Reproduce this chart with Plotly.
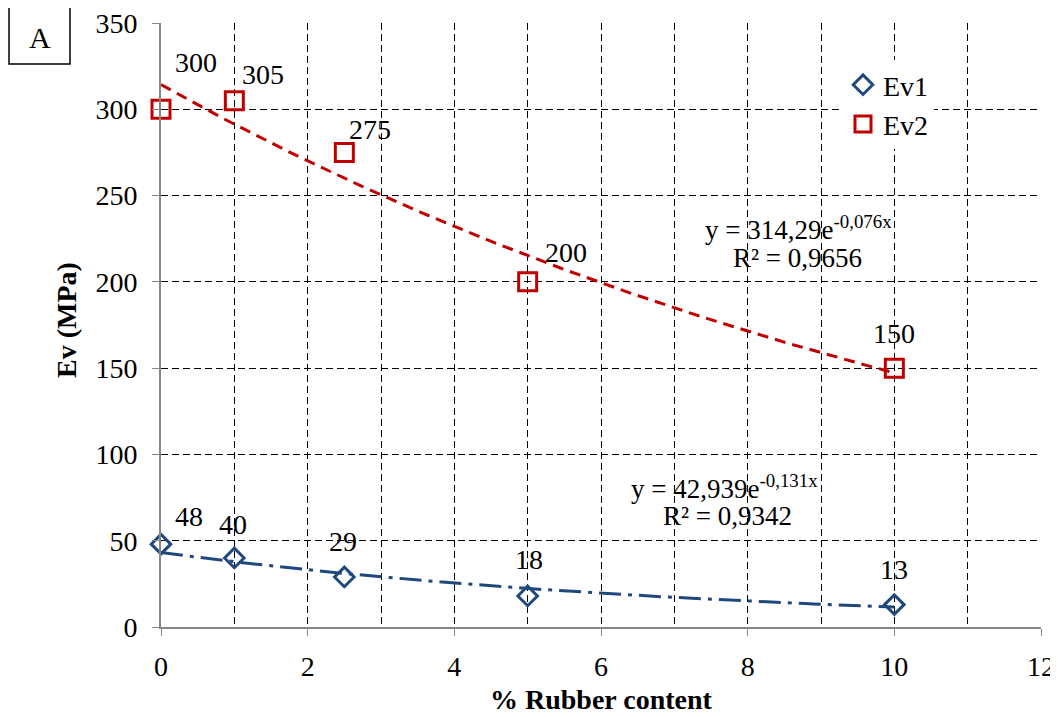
import numpy as np
import plotly.graph_objects as go

rubber = [0, 1, 2.5, 5, 10]
ev1 = [48, 40, 29, 18, 13]
ev2 = [300, 305, 275, 200, 150]
x_ticks = [0, 2, 4, 6, 8, 10, 12]
y_ticks = [0, 50, 100, 150, 200, 250, 300, 350]
eq_ev1 = ["y = 42,939e<sup>-0,131x</sup>", "R² = 0,9342"]
eq_ev2 = ["y = 314,29e<sup>-0,076x</sup>", "R² = 0,9656"]

RED = "#C00000"
BLUE = "#1F497D"
FONT = "Liberation Serif, Times New Roman, serif"

# plot frame in page pixels; the page body has an 8px margin
OFF = 8
L, R, T, B = 161, 1041, 23, 627
W, H = R - L, B - T
FIG_W, FIG_H = 1058 - OFF, 717 - OFF


def sx(px):
    return (px - L) / W


def sy(py):
    return (B - py) / H


# exponential trendlines (log-linear least squares, as Excel does)
def expfit(x, y):
    b, lna = np.polyfit(np.array(x, float), np.log(np.array(y, float)), 1)
    return np.exp(lna), b


xs = np.linspace(min(rubber), max(rubber), 100)
a1, b1 = expfit(rubber, ev1)
a2, b2 = expfit(rubber, ev2)

fig = go.Figure()
fig.add_trace(go.Scatter(x=xs, y=a2 * np.exp(b2 * xs), mode="lines",
                         line=dict(color=RED, width=3, dash="11px,7px"),
                         showlegend=False, hoverinfo="skip"))
fig.add_trace(go.Scatter(x=xs, y=a1 * np.exp(b1 * xs), mode="lines",
                         line=dict(color=BLUE, width=3, dash="22px,7px,4px,7px"),
                         showlegend=False, hoverinfo="skip"))
fig.add_trace(go.Scatter(x=rubber, y=ev1, mode="markers", name="Ev1",
                         cliponaxis=False,
                         marker=dict(symbol="diamond-open", size=15, color=BLUE,
                                     line=dict(width=3, color=BLUE))))
fig.add_trace(go.Scatter(x=rubber, y=ev2, mode="markers", name="Ev2",
                         cliponaxis=False,
                         marker=dict(symbol="square-open", size=18, color=RED,
                                     line=dict(width=3, color=RED))))

# data labels (pixel offsets from each marker: right, up)
off2 = [(35, 47), (29, 26), (26, 23), (38, 29), (0, 35)]
off1 = [(28, 28), (-1, 33), (-1, 35), (1, 36), (0, 35)]
for xv, yv, (dx, dy) in zip(rubber, ev2, off2):
    fig.add_annotation(x=xv, y=yv, text=str(yv), showarrow=False,
                       xshift=dx, yshift=dy, font=dict(family=FONT, size=28, color="black"))
for xv, yv, (dx, dy) in zip(rubber, ev1, off1):
    fig.add_annotation(x=xv, y=yv, text=str(yv), showarrow=False,
                       xshift=dx, yshift=dy, font=dict(family=FONT, size=28, color="black"))


def px_ann(px, py, text, size=27, angle=0, yanchor="middle"):
    fig.add_annotation(x=sx(px), y=sy(py), xref="paper", yref="paper",
                       text=text, showarrow=False, xanchor="center", yanchor=yanchor,
                       textangle=angle,
                       font=dict(family=FONT, size=size, color="black"))


px_ann(798, 228, eq_ev2[0])
px_ann(797, 258, eq_ev2[1])
px_ann(724, 487, eq_ev1[0])
px_ann(727, 516, eq_ev1[1])

# axis titles
px_ann(601, 717, "<b>% Rubber content</b>", size=28, yanchor="bottom")
px_ann(66, 320, "<b>Ev (MPa)</b>", size=28, angle=-90)

# "A" panel box
fig.add_shape(type="rect", xref="paper", yref="paper",
              x0=sx(9), x1=sx(70), y0=sy(64), y1=sy(6),
              line=dict(color="black", width=1.5), fillcolor="white")
px_ann(40, 37, "A", size=30)

gd = "7px,4px"
fig.update_xaxes(range=[0, 12], tickvals=x_ticks, showgrid=True,
                 gridcolor="black", gridwidth=1, griddash=gd,
                 minor=dict(dtick=1, showgrid=True, gridcolor="black", gridwidth=1, griddash=gd),
                 showline=True, linecolor="#868686", linewidth=2,
                 ticks="outside", ticklen=7, tickcolor="#868686", tickwidth=1,
                 ticklabelstandoff=6, ticklabeloverflow="allow",
                 zeroline=False, automargin=False,
                 tickfont=dict(family=FONT, size=28, color="black"))
fig.update_yaxes(range=[0, 350], tickvals=y_ticks, showgrid=True,
                 gridcolor="black", gridwidth=1, griddash=gd,
                 showline=True, linecolor="#868686", linewidth=2,
                 ticks="outside", ticklen=7, tickcolor="#868686", tickwidth=1,
                 ticklabelstandoff=9, ticklabeloverflow="allow",
                 zeroline=False, automargin=False,
                 tickfont=dict(family=FONT, size=28, color="black"))

fig.update_layout(width=FIG_W, height=FIG_H,
                  font=dict(family=FONT, color="black"),
                  margin=dict(l=L - OFF, r=FIG_W - (R - OFF), t=T - OFF, b=FIG_H - (B - OFF)),
                  paper_bgcolor="white", plot_bgcolor="white",
                  legend=dict(x=sx(843), y=sy(60), xanchor="left", yanchor="top",
                              bgcolor="white", borderwidth=0,
                              font=dict(family=FONT, size=28, color="black"),
                              itemsizing="trace", tracegroupgap=0),
                  showlegend=True)

fig.write_html("out.html")
